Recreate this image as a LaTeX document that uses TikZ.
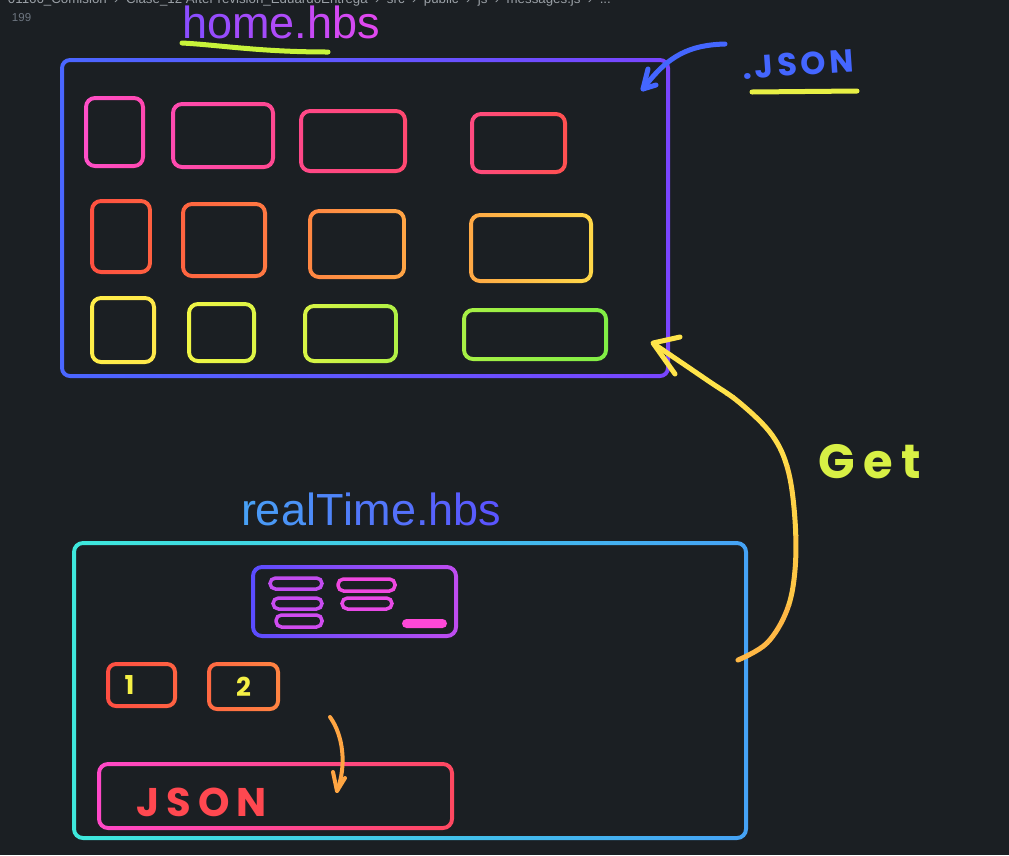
\documentclass[tikz,border=0pt]{standalone}
\usepackage{fontspec}
\setmainfont{Liberation Sans}
\newfontfamily\hand{Poppins}
\usetikzlibrary{calc,fit}
\definecolor{bg}{HTML}{1B1F23}
\definecolor{hA}{HTML}{8B4DFF}
\definecolor{hB}{HTML}{E048F0}
\definecolor{rA}{HTML}{48A0F5}
\definecolor{rB}{HTML}{5A55FF}
\definecolor{bluepen}{HTML}{4466FF}
\definecolor{limepen}{HTML}{C8F43A}
\definecolor{yellowpen}{HTML}{E8F045}
\definecolor{getpen}{HTML}{D8F045}
\definecolor{numpen}{HTML}{F5F045}
\definecolor{redpen}{HTML}{FF4850}
\definecolor{orangepen}{HTML}{FFA542}
\definecolor{crumb}{HTML}{9AA0A6}
\definecolor{lineno}{HTML}{6E7681}
\definecolor{pillA}{HTML}{C24CF0}
\definecolor{pillB}{HTML}{C84CF0}
\definecolor{pillC}{HTML}{D04CF0}
\definecolor{pillD}{HTML}{F048E0}
\definecolor{pillE}{HTML}{E84AE6}
\definecolor{barfill}{HTML}{FF48D8}
% #1 name, #2-#5 corners, #6 line width, #7 radius, #8 left colour, #9 right colour
\newcommand\rbox[9]{%
  \coordinate (#1-a) at (#2,#3);
  \coordinate (#1-b) at (#4,#5);
  \node[fit=(#1-a)(#1-b), inner sep=0pt, outer sep=0pt] (#1) {};
  \definecolor{rbL}{HTML}{#8}%
  \definecolor{rbR}{HTML}{#9}%
  \pgfmathsetmacro\rbo{#7+#6/2}%
  \pgfmathsetmacro\rbi{max(#7-#6/2,0.1)}%
  \pgfmathsetmacro\rbh{#6/2}%
  \shade[left color=rbL, right color=rbR, even odd rule]
    [rounded corners=\rbo pt] ($(#1-a)+(-\rbh pt,\rbh pt)$) rectangle ($(#1-b)+(\rbh pt,-\rbh pt)$)
    [rounded corners=\rbi pt] ($(#1-a)+(\rbh pt,-\rbh pt)$) rectangle ($(#1-b)+(-\rbh pt,\rbh pt)$);
}
\tikzset{
  pen/.style={line width=#1, line cap=round, line join=round},
  pill/.style={line width=3.5, rounded corners=5.5},
  lbl/.style={anchor=base west, inner sep=0pt, outer sep=0pt},
  handtxt/.style={inner sep=0pt, font=\hand\bfseries}
}
\begin{document}
\begin{tikzpicture}[x=1pt,y=-1pt]
\fill[bg] (0,0) rectangle (1009,855);
\useasboundingbox (0,0) rectangle (1009,855);

% editor chrome
\node[lbl, text=crumb, font=\fontsize{13.3}{15}\selectfont] (crumbs) at (8,3)
  {01166\_Comision \ › \ Clase\_12 After revision\_EduardoEntrega \ › \ src \ › \ public \ › \ js \ › \ messages.js \ › \ ...};
\node[lbl, text=lineno, font=\fontsize{11.5}{13}\selectfont] (ln) at (12,21) {199};

% titles
\node[lbl, font=\fontsize{45}{50}\selectfont] (homelbl) at (182,38)
  {\textcolor{hB!0!hA}{h}\textcolor{hB!14!hA}{o}\textcolor{hB!28!hA}{m}\textcolor{hB!43!hA}{e}\textcolor{hB!57!hA}{.}\textcolor{hB!71!hA}{h}\textcolor{hB!86!hA}{b}\textcolor{hB!100!hA}{s}};
\draw[pen=5, limepen] (182,43) .. controls (220,45) and (260,52) .. (328,52);

\node[lbl, font=\fontsize{45}{50}\selectfont] (rtlbl) at (241,525)
  {\textcolor{rB!0!rA}{r}\textcolor{rB!9!rA}{e}\textcolor{rB!18!rA}{a}\textcolor{rB!27!rA}{l}\textcolor{rB!36!rA}{T}\textcolor{rB!45!rA}{i}\textcolor{rB!55!rA}{m}\textcolor{rB!64!rA}{e}\textcolor{rB!73!rA}{.}\textcolor{rB!82!rA}{h}\textcolor{rB!91!rA}{b}\textcolor{rB!100!rA}{s}};

% home.hbs box and its grid
\rbox{home}{62}{60}{668}{376}{4}{8}{4A66FF}{7A45FF}
\rbox{b1}{86}{98}{143}{166}{4}{9}{FF4FC8}{FF48B0}
\rbox{b2}{173}{104}{273}{167}{4}{9}{FF4AB0}{FF4890}
\rbox{b3}{301}{111}{405}{171}{4}{9}{FF4888}{FF4870}
\rbox{b4}{472}{114}{565}{172}{4}{9}{FF4A80}{FF5050}
\rbox{b5}{92}{201}{150}{272}{4}{9}{FF5040}{FF6040}
\rbox{b6}{183}{204}{265}{276}{4}{9}{FF6440}{FF7842}
\rbox{b7}{310}{211}{404}{277}{4}{9}{FF8642}{FFA545}
\rbox{b8}{471}{215}{591}{281}{4}{9}{FFA845}{FFD848}
\rbox{b9}{92}{298}{154}{362}{4}{9}{FFEE48}{FFE84A}
\rbox{b10}{189}{304}{254}{361}{4}{9}{F0F545}{DDF545}
\rbox{b11}{305}{306}{396}{361}{4}{9}{D8F545}{B0F045}
\rbox{b12}{464}{310}{606}{359}{4}{9}{A8F045}{80EE45}

% .JSON note with arrow
\node[handtxt, text=bluepen, font=\hand\bfseries\fontsize{32}{36}\selectfont\addfontfeature{LetterSpace=12}, rotate=4] (jsonnote) at (798,64) {.JSON};
\draw[pen=5, yellowpen] (752,92) -- (857,91);
\coordinate (bluefrom) at (725,44);
\coordinate (bluetip) at (643,89);
\draw[pen=5, bluepen] (bluefrom) .. controls (690,45) and (668,55) .. (bluetip);
\draw[pen=5, bluepen] (648,69) -- (bluetip) -- (656,85);

% realTime.hbs box
\rbox{rt}{74}{543}{746}{838}{4}{9}{3EE8DC}{45A2F5}
\rbox{ui}{253}{567}{456}{636}{4}{9}{5A4CFF}{C04CF0}
\draw[pill, pillA] (270,578) rectangle (322,589);
\draw[pill, pillB] (273,598) rectangle (322,609);
\draw[pill, pillC] (276,615) rectangle (322,627);
\draw[pill, pillD] (338,579) rectangle (395,591);
\draw[pill, pillE] (342,598) rectangle (392,609);
\fill[barfill, rounded corners=4.5] (402,619) rectangle (447,628);

\rbox{one}{108}{664}{175}{706}{4}{8}{FF4E42}{FF6242}
\rbox{two}{209}{664}{278}{709}{4}{8}{FF6842}{FF8442}
\node[handtxt, text=numpen, font=\hand\bfseries\fontsize{26}{30}\selectfont] (n1) at ($(one)+(-12,0)$) {1};
\node[handtxt, text=numpen, font=\hand\bfseries\fontsize{26}{30}\selectfont] (n2) at (two) {2};

\rbox{jb}{99}{764}{452}{828}{4}{9}{FF48C8}{FF4860}
\node[handtxt, anchor=west, text=redpen, font=\hand\bfseries\fontsize{40}{44}\selectfont\addfontfeature{LetterSpace=18}] (jsontxt) at (136,802) {JSON};

% small orange arrow into JSON box
\coordinate (oS) at (330,717);
\coordinate (oT) at (337,791);
\draw[pen=4, orangepen] (oS) .. controls (343,735) and (347,765) .. (oT);
\draw[pen=4, orangepen] (333,772) -- (oT) -- (345,778);

% Get arrow from realTime to home
\coordinate (getS) at (738,660);
\coordinate (getT) at (653,343);
\foreach \yy/\cc in {325/FFE44A, 395/FFDC4A, 465/FFD248, 535/FFC746, 605/FFB845} {
  \begin{scope}
    \clip (600,\yy) rectangle (830,\yy+70);
    \definecolor{band}{HTML}{\cc}
    \draw[pen=5, band] plot[smooth, tension=0.6] coordinates
      {(getS) (767,643) (787,610) (795,570) (795,520) (788,470) (772,435) (740,403) (707,380) (657,346)};
    \draw[pen=5, band] (680,337) -- (getT) -- (675,374);
  \end{scope}
}
\node[handtxt, text=getpen, font=\hand\bfseries\fontsize{48}{52}\selectfont\addfontfeature{LetterSpace=18}] (getlbl) at (870,462) {Get};
\end{tikzpicture}
\end{document}
